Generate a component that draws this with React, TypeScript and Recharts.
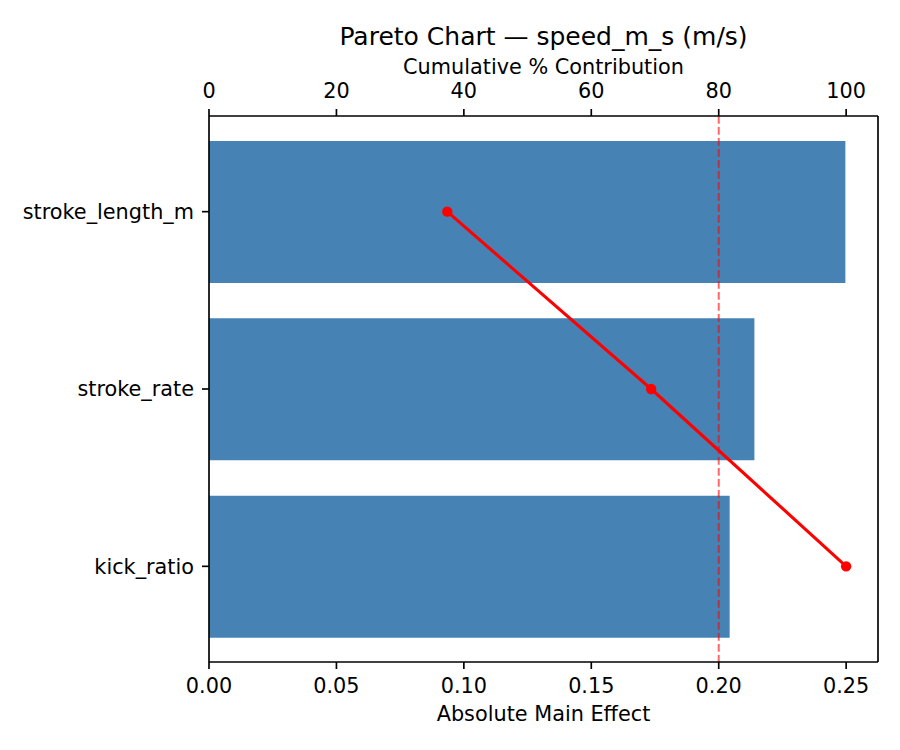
import { ComposedChart, Bar, Line, XAxis, YAxis, ReferenceLine } from "recharts"

const factors = ["stroke_length_m", "stroke_rate", "kick_ratio"]
const effects = [0.2497, 0.214, 0.2043]
const cumulative = [37.4, 69.4, 100]

const effectTicks = [0, 0.05, 0.1, 0.15, 0.2, 0.25]
const cumTicks = [0, 20, 40, 60, 80, 100]

const rows = factors.map((f, i) => ({
  factor: f,
  effect: effects[i],
  cum: cumulative[i],
}))

const FONT = "DejaVu Sans, sans-serif"
const tickStyle = { fill: "#000", fontSize: 20.8, fontFamily: FONT }
const axisLine = { stroke: "#000", strokeWidth: 1.67 }

const App = () => {
  return (
    <div style={{ position: "absolute", left: 0, top: 0, width: 900, height: 750, background: "#fff" }}>
      <ComposedChart
        layout="vertical"
        width={900}
        height={750}
        data={rows}
        margin={{ top: 66, right: 22, bottom: 38, left: 9 }}
      >
        <XAxis
          xAxisId="effect"
          type="number"
          orientation="bottom"
          domain={[0, 0.2625]}
          allowDataOverflow
          ticks={effectTicks}
          tickFormatter={(v: number) => v.toFixed(2)}
          height={50}
          tick={tickStyle}
          tickSize={7}
          tickMargin={9}
          axisLine={axisLine}
          tickLine={axisLine}
        />
        <XAxis
          xAxisId="cum"
          type="number"
          orientation="top"
          domain={[0, 105]}
          allowDataOverflow
          ticks={cumTicks}
          height={50}
          tick={tickStyle}
          tickSize={7}
          tickMargin={11}
          axisLine={axisLine}
          tickLine={axisLine}
        />
        <YAxis
          type="category"
          dataKey="factor"
          width={200}
          padding={{ top: 7, bottom: 7 }}
          tick={tickStyle}
          tickSize={7}
          tickMargin={8}
          axisLine={axisLine}
          tickLine={axisLine}
        />
        <Bar xAxisId="effect" dataKey="effect" fill="#4682b4" barSize={142} isAnimationActive={false} />
        <ReferenceLine
          xAxisId="cum"
          x={80}
          stroke="#ff0000"
          strokeOpacity={0.6}
          strokeWidth={2}
          strokeDasharray="7.7 3.3"
        />
        <ReferenceLine xAxisId="cum" x={105} stroke="#000" strokeWidth={1.67} />
        <Line
          xAxisId="cum"
          dataKey="cum"
          stroke="#ff0000"
          strokeWidth={3.1}
          dot={{ r: 5.2, fill: "#ff0000", stroke: "none" }}
          isAnimationActive={false}
        />
      </ComposedChart>
      <svg
        width={900}
        height={750}
        style={{ position: "absolute", left: 0, top: 0, pointerEvents: "none" }}
      >
        <text x={543.5} y={45} textAnchor="middle" fontFamily={FONT} fontSize={25} fill="#000">
          Pareto Chart — speed_m_s (m/s)
        </text>
        <text x={543.5} y={74} textAnchor="middle" fontFamily={FONT} fontSize={20.8} fill="#000">
          Cumulative % Contribution
        </text>
        <text x={543.5} y={721} textAnchor="middle" fontFamily={FONT} fontSize={20.8} fill="#000">
          Absolute Main Effect
        </text>
      </svg>
    </div>
  )
}

export default App
